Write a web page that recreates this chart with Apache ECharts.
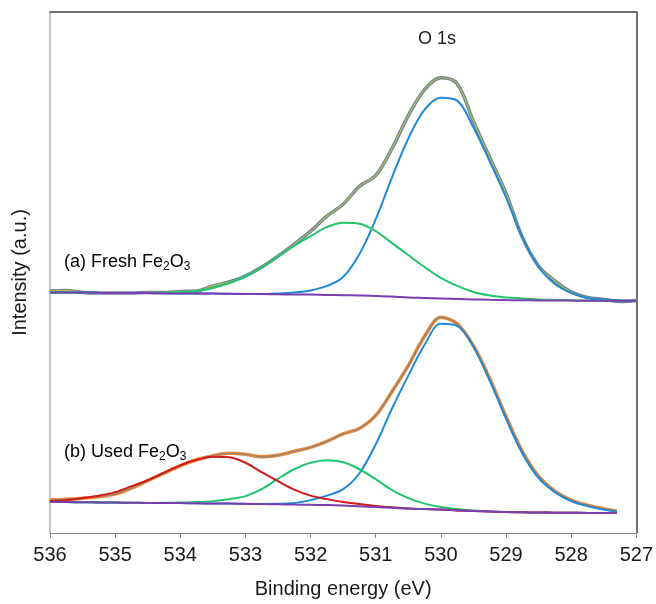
<!DOCTYPE html>
<html>
<head>
<meta charset="utf-8">
<script src="https://cdn.jsdelivr.net/npm/echarts@6/dist/echarts.min.js"></script>
<style>
  html, body { margin: 0; padding: 0; background: #fff; }
  #chart { width: 656px; height: 604px; }
</style>
</head>
<body>
<div id="chart"></div>
<script>
// O 1s XPS spectra of fresh and used Fe2O3 (stacked, arbitrary intensity units)

// Binding energies (eV) for the fresh-sample traces
const energyFresh = [536, 535.75, 535.5, 535.25, 535, 534.75, 534.5, 534.25, 534, 533.75,
  533.5, 533.25, 533, 532.75, 532.5, 532.25, 532, 531.75, 531.5, 531.25,
  531, 530.75, 530.5, 530.25, 530, 529.75, 529.5, 529.25, 529, 528.75,
  528.5, 528.25, 528, 527.75, 527.5, 527.25, 527];

// (a) Fresh Fe2O3: measured spectrum, fitted components and background
const freshSpectrum = [243, 243.5, 241.5, 241, 241, 241, 241.5, 241.5, 242.5, 243,
  248, 252, 258, 267, 278, 290, 303, 318, 330, 348,
  359, 386, 419, 445, 457, 451, 413, 377, 341, 297,
  268, 253, 242, 236.5, 234.5, 232.5, 233.5];
const freshLattice = [241.5, 241.4, 241.3, 241.1, 241, 240.9, 240.8, 240.6, 240.5, 240.4,
  240.3, 240.1, 240, 240, 240.5, 241.5, 243.5, 248, 257, 280,
  315, 357, 396, 425, 437, 434, 407, 373, 337, 297,
  267, 250, 241, 236, 234.5, 233.5, 233];
const freshDefect = [241.5, 241.4, 241.3, 241.1, 241, 241, 241, 241.3, 241.8, 243,
  246, 251, 257.5, 266.5, 277.5, 288.5, 298, 307, 311.5, 310.5,
  303, 291, 279, 267, 256, 248, 242, 238.5, 236.5, 235.5,
  234.5, 234, 233.5, 233.3, 233.2, 233.1, 233];
const freshBackground = [241.5, 241.4, 241.3, 241.1, 241, 240.9, 240.8, 240.6, 240.5, 240.4,
  240.3, 240.1, 240, 239.8, 239.6, 239.4, 239.3, 239, 238.7, 238.4,
  238, 237.3, 236.5, 236, 235.5, 235, 234.5, 234.1, 233.8, 233.6,
  233.5, 233.4, 233.3, 233.2, 233.1, 233.05, 233];

// Binding energies (eV) for the used-sample traces
const energyUsed = [536, 535.75, 535.5, 535.25, 535, 534.75, 534.5, 534.25, 534, 533.75,
  533.5, 533.25, 533, 532.75, 532.5, 532.25, 532, 531.75, 531.5, 531.25,
  531, 530.75, 530.5, 530.25, 530, 529.75, 529.5, 529.25, 529, 528.75,
  528.5, 528.25, 528, 527.75, 527.5, 527.3];

// (b) Used Fe2O3: measured spectrum, fitted components and background
const usedSpectrum = [33.3, 34, 35, 36.5, 39, 45, 52.5, 60, 67.5, 73.5,
  77.5, 80, 79, 76.5, 78, 82, 86, 92, 99.5, 105,
  118, 142, 168, 197.5, 216.5, 210, 188, 155, 117, 82,
  57, 42, 33, 28, 24.5, 22];
const usedLattice = [31, 31, 30.8, 30.7, 30.5, 30.3, 30.2, 30.1, 30, 29.8,
  29.6, 29.5, 29.3, 29.2, 29.3, 30, 33, 37.5, 44, 60,
  89, 125, 158, 189, 210, 208, 187, 153, 115, 80,
  55, 41, 32, 27, 23.5, 21.5];
const usedDefect = [31, 31, 30.8, 30.7, 30.5, 30.3, 30.2, 30.3, 30.5, 31,
  32, 34, 37, 44, 54.5, 64, 70.5, 73, 71, 64,
  54, 43, 35, 29.5, 26, 24, 22.5, 21.7, 21.1, 20.8,
  20.6, 20.4, 20.3, 20.2, 20.1, 20];
const usedHydroxyl = [32, 33, 35, 37.5, 41, 47, 53, 60.5, 68, 73.5,
  76.5, 76, 70.5, 61, 52, 43.5, 37.5, 34, 31.2, 29,
  27.2, 25.8, 24.7, 24, 23.5, 22.7, 22, 21.5, 21, 20.8,
  20.6, 20.4, 20.3, 20.2, 20.1, 20];
const usedBackground = [31, 31, 30.8, 30.7, 30.5, 30.3, 30.2, 30.1, 30, 29.8,
  29.6, 29.5, 29.3, 29, 28.8, 28.5, 28.3, 28, 27.5, 26.8,
  26, 25.3, 24.5, 24, 23.5, 22.7, 22, 21.5, 21, 20.8,
  20.6, 20.4, 20.3, 20.2, 20.1, 20];

// Axis settings
const energyMin = 527, energyMax = 536, energyStep = 1;
const intensityMin = 0, intensityMax = 523;

const FONT = '"Liberation Sans", Arial, sans-serif';

function pairs(xs, ys) { return xs.map((x, i) => [x, ys[i]]); }

function line(name, xs, ys, color, width, z, opacity) {
  return {
    name, type: 'line', data: pairs(xs, ys),
    xAxisIndex: 0, yAxisIndex: 0,
    showSymbol: false, smooth: 0.35, z: z,
    lineStyle: { color, width, opacity: opacity == null ? 1 : opacity },
    emphasis: { disabled: true }, silent: true
  };
}

const chart = echarts.init(document.getElementById('chart'), null, { renderer: 'canvas' });

const subRich = {
  sub: { fontSize: 12, fontFamily: FONT, color: '#222', verticalAlign: 'bottom', lineHeight: 12, padding: [8, 0, 0, 0] },
  n: { fontSize: 18, fontFamily: FONT, color: '#222', lineHeight: 21 }
};

chart.setOption({
  animation: false,
  backgroundColor: '#ffffff',
  textStyle: { fontFamily: FONT },
  grid: { left: 50, right: 18, top: 12, bottom: 69, containLabel: false },
  xAxis: [
    {
      type: 'value', min: energyMin, max: energyMax, interval: energyStep, inverse: true,
      position: 'bottom',
      axisLine: { show: true, onZero: false, lineStyle: { color: '#8a8a8a', width: 1 } },
      axisTick: { show: true, length: 5, lineStyle: { color: '#8a8a8a' } },
      axisLabel: { fontSize: 20, color: '#1a1a1a', margin: 12, fontFamily: FONT },
      splitLine: { show: false },
      name: 'Binding energy (eV)', nameLocation: 'middle', nameGap: 46,
      nameTextStyle: { fontSize: 20, color: '#1a1a1a', fontFamily: FONT }
    },
    {
      type: 'value', min: energyMin, max: energyMax, interval: energyStep, inverse: true,
      position: 'top',
      axisLine: { show: true, onZero: false, lineStyle: { color: '#444', width: 1.5 } },
      axisTick: { show: false }, axisLabel: { show: false }, splitLine: { show: false }
    }
  ],
  yAxis: [
    {
      type: 'value', min: intensityMin, max: intensityMax, position: 'left',
      axisLine: { show: true, onZero: false, lineStyle: { color: '#b0b0b0', width: 1.5 } },
      axisTick: { show: false }, axisLabel: { show: false }, splitLine: { show: false },
      name: 'Intensity (a.u.)', nameLocation: 'middle', nameGap: 20,
      nameTextStyle: { fontSize: 20, color: '#1a1a1a', fontFamily: FONT }
    },
    {
      type: 'value', min: intensityMin, max: intensityMax, position: 'right',
      axisLine: { show: true, onZero: false, lineStyle: { color: '#444', width: 1.5 } },
      axisTick: { show: false }, axisLabel: { show: false }, splitLine: { show: false }
    }
  ],
  series: [
    // fresh sample
    line('Fresh measured', energyFresh, freshSpectrum, '#71829a', 3.5, 2),
    line('Fresh fit', energyFresh, freshSpectrum, '#c2d23c', 1.2, 3, 0.75),
    line('Fresh lattice O', energyFresh, freshLattice, '#1e8ad6', 2, 4),
    line('Fresh defect O', energyFresh, freshDefect, '#1fc46c', 2, 4),
    line('Fresh background', energyFresh, freshBackground, '#7a3fae', 2, 5),
    // used sample
    line('Used measured', energyUsed, usedSpectrum, '#ec8a3a', 3.5, 2),
    line('Used fit', energyUsed, usedSpectrum, '#6f7f8e', 1.2, 3, 0.7),
    line('Used lattice O', energyUsed, usedLattice, '#1e8ad6', 2, 4),
    line('Used defect O', energyUsed, usedDefect, '#1fc46c', 2, 4),
    line('Used hydroxyl O', energyUsed, usedHydroxyl, '#d21a1a', 2, 4),
    line('Used background', energyUsed, usedBackground, '#7a3fae', 2, 5)
  ],
  graphic: [
    {
      type: 'text', left: 418, top: 30, silent: true,
      style: { text: 'O 1s', font: '18px ' + FONT, fill: '#222' }
    },
    {
      type: 'text', left: 64, top: 253, silent: true,
      style: { text: '{n|(a) Fresh Fe}{sub|2}{n|O}{sub|3}', rich: subRich }
    },
    {
      type: 'text', left: 64, top: 443, silent: true,
      style: { text: '{n|(b) Used Fe}{sub|2}{n|O}{sub|3}', rich: subRich }
    }
  ]
});
</script>
</body>
</html>
